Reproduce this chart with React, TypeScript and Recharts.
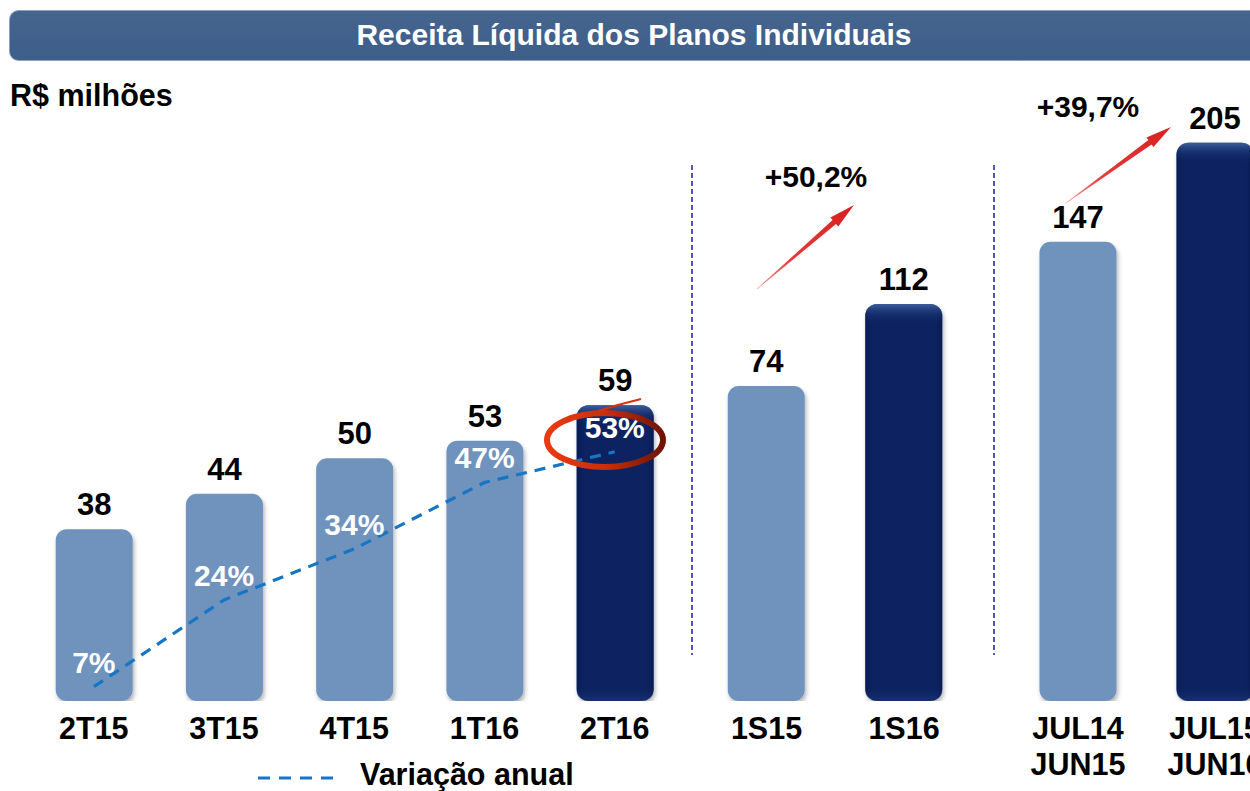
import React from 'react';
import { ComposedChart, BarChart, Bar, Line, XAxis, YAxis, LabelList } from 'recharts';

// ---------------- data ----------------
const quarterCategories = ['2T15', '3T15', '4T15', '1T16', '2T16'];
const quarterRevenue = [38, 44, 50, 53, 59];
const quarterGrowth = [7, 24, 34, 47, 53];

const semesterCategories = ['1S15', '1S16'];
const semesterRevenue = [74, 112];

const annualCategories = ['JUL14\nJUN15', 'JUL15\nJUN16'];
const annualRevenue = [147, 205];

const semesterChangeLabel = '+50,2%';
const annualChangeLabel = '+39,7%';
const titleText = 'Receita Líquida dos Planos Individuais';
const unitText = 'R$ milhões';
const growthSeriesName = 'Variação anual';

// each panel of the original has its own value scale
const QUARTER_DOMAIN: [number, number] = [8.9, 110.7];
const GROWTH_DOMAIN: [number, number] = [4.2, 121.9];
const SEMESTER_DOMAIN: [number, number] = [-72, 206.5];
const ANNUAL_DOMAIN: [number, number] = [-122, 230];

const quarterRows = quarterCategories.map((name, i) => ({
  name,
  value: quarterRevenue[i],
  bar: [QUARTER_DOMAIN[0], quarterRevenue[i]],
  growth: quarterGrowth[i],
}));
const semesterRows = semesterCategories.map((name, i) => ({
  name,
  value: semesterRevenue[i],
  bar: [SEMESTER_DOMAIN[0], semesterRevenue[i]],
}));
const annualRows = annualCategories.map((name, i) => ({
  name,
  value: annualRevenue[i],
  bar: [ANNUAL_DOMAIN[0], annualRevenue[i]],
}));

// ---------------- styles ----------------
const FONT = '"Liberation Sans", Arial, Helvetica, sans-serif';
const LIGHT = '#6f93be';
const DARK = '#0a2460';
const LINE_BLUE = '#1776c4';

const CategoryTick = (props: any) => {
  const { x, y, payload } = props;
  const lines = String(payload.value).split('\n');
  return (
    <text x={x} y={y} textAnchor="middle" fontFamily={FONT} fontWeight="bold" fontSize={30.5} fill="#000">
      {lines.map((l, i) => (
        <tspan key={i} x={x} dy={i === 0 ? 38 : 36}>
          {l}
        </tspan>
      ))}
    </text>
  );
};

const makeBarShape = (lastIndex: number) => (props: any) => {
  const { x, width, index } = props;
  const y = Math.min(props.y, props.y + props.height);
  const h = Math.abs(props.height);
  const dark = index === lastIndex;
  if (!dark) {
    return (
      <g>
        <rect x={x} y={y} width={width} height={h} rx={11} ry={11} fill={LIGHT} filter="url(#barShadow)" />
      </g>
    );
  }
  return (
    <g>
      <rect x={x} y={y} width={width} height={h} rx={12} ry={12} fill={DARK} filter="url(#barShadow)" />
      <rect x={x} y={y} width={width} height={h} rx={12} ry={12} fill="url(#darkSides)" />
      <rect x={x} y={y} width={width} height={Math.min(22, h)} rx={12} ry={12} fill="url(#darkTop)" />
      <rect x={x} y={y + h - Math.min(18, h)} width={width} height={Math.min(18, h)} rx={12} ry={12} fill="url(#darkBottom)" />
    </g>
  );
};

const ValueLabel = (props: any) => {
  const { x, width, value } = props;
  const y = Math.min(props.y, props.y + props.height);
  return (
    <text x={x + width / 2} y={y - 14} textAnchor="middle" fontFamily={FONT} fontWeight="bold" fontSize={31} fill="#000">
      {value}
    </text>
  );
};

const GrowthLabel = (props: any) => {
  const { x, y, value } = props;
  return (
    <text x={x} y={y - 14} textAnchor="middle" fontFamily={FONT} fontWeight="bold" fontSize={30} fill="#fff">
      {value}%
    </text>
  );
};

const arrowPoints = (x1: number, y1: number, x2: number, y2: number) => {
  const dx = x2 - x1;
  const dy = y2 - y1;
  const L = Math.hypot(dx, dy);
  const ux = dx / L;
  const uy = dy / L;
  const nx = -uy;
  const ny = ux;
  const headLen = 26;
  const headW = 6;
  const shaftW = 2.6;
  const bx = x2 - ux * headLen;
  const by = y2 - uy * headLen;
  const pts = [
    [x1 + nx * 0.3, y1 + ny * 0.3],
    [bx + nx * shaftW, by + ny * shaftW],
    [bx + nx * headW, by + ny * headW],
    [x2, y2],
    [bx - nx * headW, by - ny * headW],
    [bx - nx * shaftW, by - ny * shaftW],
    [x1 - nx * 0.3, y1 - ny * 0.3],
  ];
  return pts.map((p) => `${p[0].toFixed(1)},${p[1].toFixed(1)}`).join(' ');
};

const xAxisProps = {
  dataKey: 'name',
  height: 90,
  axisLine: false,
  tickLine: false,
  tickSize: 0,
  tickMargin: 0,
  interval: 0 as const,
  tick: <CategoryTick />,
};

export default function App() {
  return (
    <div
      style={{
        position: 'absolute',
        left: 0,
        top: 0,
        width: 1250,
        height: 791,
        overflow: 'hidden',
        background: '#fff',
        fontFamily: FONT,
      }}
    >
      {/* quarters */}
      <div style={{ position: 'absolute', left: 0, top: 60 }}>
        <ComposedChart width={700} height={731} data={quarterRows} margin={{ top: 40, right: 20.1, bottom: 0, left: 28.7 }}>
          <XAxis {...xAxisProps} />
          <YAxis yAxisId="rev" hide type="number" domain={QUARTER_DOMAIN} allowDataOverflow />
          <YAxis yAxisId="pct" hide type="number" domain={GROWTH_DOMAIN} allowDataOverflow />
          <Bar yAxisId="rev" dataKey="bar" barSize={77} isAnimationActive={false} shape={makeBarShape(quarterRows.length - 1)}>
            <LabelList dataKey="value" content={<ValueLabel />} />
          </Bar>
          <Line
            yAxisId="pct"
            dataKey="growth"
            name={growthSeriesName}
            type="linear"
            stroke={LINE_BLUE}
            strokeWidth={3.2}
            strokeDasharray="11 8"
            dot={false}
            activeDot={false}
            isAnimationActive={false}
          >
            <LabelList dataKey="growth" content={<GrowthLabel />} />
          </Line>
        </ComposedChart>
      </div>

      {/* semesters */}
      <div style={{ position: 'absolute', left: 690, top: 60 }}>
        <BarChart width={300} height={731} data={semesterRows} margin={{ top: 40, right: 17.25, bottom: 0, left: 7.75 }}>
          <XAxis {...xAxisProps} />
          <YAxis hide type="number" domain={SEMESTER_DOMAIN} allowDataOverflow />
          <Bar dataKey="bar" barSize={77} isAnimationActive={false} shape={makeBarShape(semesterRows.length - 1)}>
            <LabelList dataKey="value" content={<ValueLabel />} />
          </Bar>
        </BarChart>
      </div>

      {/* twelve months */}
      <div style={{ position: 'absolute', left: 1000, top: 60 }}>
        <BarChart width={300} height={731} data={annualRows} margin={{ top: 40, right: 16.5, bottom: 0, left: 9.5 }}>
          <XAxis {...xAxisProps} />
          <YAxis hide type="number" domain={ANNUAL_DOMAIN} allowDataOverflow />
          <Bar dataKey="bar" barSize={77} isAnimationActive={false} shape={makeBarShape(annualRows.length - 1)}>
            <LabelList dataKey="value" content={<ValueLabel />} />
          </Bar>
        </BarChart>
      </div>

      {/* decorations */}
      <svg width={1250} height={791} style={{ position: 'absolute', left: 0, top: 0, pointerEvents: 'none' }}>
        <defs>
          <filter id="barShadow" x="-20%" y="-10%" width="140%" height="120%">
            <feDropShadow dx="1.5" dy="3" stdDeviation="2" floodColor="#000" floodOpacity="0.3" />
          </filter>
          <linearGradient id="darkSides" x1="0" y1="0" x2="1" y2="0">
            <stop offset="0" stopColor="#021548" stopOpacity="0.5" />
            <stop offset="0.1" stopColor="#021548" stopOpacity="0" />
            <stop offset="0.9" stopColor="#021548" stopOpacity="0" />
            <stop offset="1" stopColor="#021548" stopOpacity="0.5" />
          </linearGradient>
          <linearGradient id="darkTop" x1="0" y1="0" x2="0" y2="1">
            <stop offset="0" stopColor="#4a6cab" stopOpacity="0.8" />
            <stop offset="0.45" stopColor="#2a4a8a" stopOpacity="0.35" />
            <stop offset="1" stopColor={DARK} stopOpacity="0" />
          </linearGradient>
          <linearGradient id="darkBottom" x1="0" y1="0" x2="0" y2="1">
            <stop offset="0" stopColor={DARK} stopOpacity="0" />
            <stop offset="1" stopColor="#24427e" stopOpacity="0.45" />
          </linearGradient>
          <linearGradient id="titleGrad" x1="0" y1="0" x2="0" y2="1">
            <stop offset="0" stopColor="#45658f" />
            <stop offset="1" stopColor="#3d5e89" />
          </linearGradient>
          <linearGradient id="arrow1" gradientUnits="userSpaceOnUse" x1="757" y1="289" x2="854" y2="205">
            <stop offset="0" stopColor="#f5a0a0" />
            <stop offset="0.35" stopColor="#e53a3a" />
            <stop offset="1" stopColor="#d81f1f" />
          </linearGradient>
          <linearGradient id="arrow2" gradientUnits="userSpaceOnUse" x1="1066" y1="203" x2="1171" y2="127">
            <stop offset="0" stopColor="#f5a0a0" />
            <stop offset="0.35" stopColor="#e53a3a" />
            <stop offset="1" stopColor="#d81f1f" />
          </linearGradient>
          <linearGradient id="ringGrad" x1="0" y1="0" x2="1" y2="0">
            <stop offset="0" stopColor="#ea3a10" />
            <stop offset="0.5" stopColor="#c9300c" />
            <stop offset="1" stopColor="#6e1400" />
          </linearGradient>
        </defs>

        {/* title bar */}
        <rect x={9.5} y={10.5} width={1270} height={50} rx={9} ry={9} fill="url(#titleGrad)" stroke="#8aa2c2" strokeWidth={1} />
        <text x={634} y={45} textAnchor="middle" fontFamily={FONT} fontWeight="bold" fontSize={30} fill="#fff">
          {titleText}
        </text>
        <text x={10} y={106} fontFamily={FONT} fontWeight="bold" fontSize={30.5} fill="#000">
          {unitText}
        </text>

        {/* panel separators */}
        <line x1={692} y1={165} x2={692} y2={655} stroke="#1c1f9c" strokeWidth={1.5} strokeDasharray="5 3" />
        <line x1={994} y1={165} x2={994} y2={655} stroke="#1c1f9c" strokeWidth={1.5} strokeDasharray="5 3" />

        {/* growth arrows */}
        <polygon points={arrowPoints(757, 289, 854, 205)} fill="url(#arrow1)" />
        <text x={816} y={187} textAnchor="middle" fontFamily={FONT} fontWeight="bold" fontSize={30} fill="#000">
          {semesterChangeLabel}
        </text>
        <polygon points={arrowPoints(1066, 203, 1171, 127)} fill="url(#arrow2)" />
        <text x={1088} y={117} textAnchor="middle" fontFamily={FONT} fontWeight="bold" fontSize={30} fill="#000">
          {annualChangeLabel}
        </text>

        {/* highlight ring */}
        <ellipse cx={605} cy={440} rx={58} ry={27} fill="none" stroke="url(#ringGrad)" strokeWidth={6} />
        <path d="M 598 411 Q 620 404 641 399" fill="none" stroke="#d83010" strokeWidth={2} />

        {/* legend */}
        <line x1={258} y1={778} x2={336} y2={778} stroke={LINE_BLUE} strokeWidth={3.2} strokeDasharray="12 9" />
        <text x={360} y={785} fontFamily={FONT} fontWeight="bold" fontSize={30.5} fill="#000">
          {growthSeriesName}
        </text>
      </svg>
    </div>
  );
}
